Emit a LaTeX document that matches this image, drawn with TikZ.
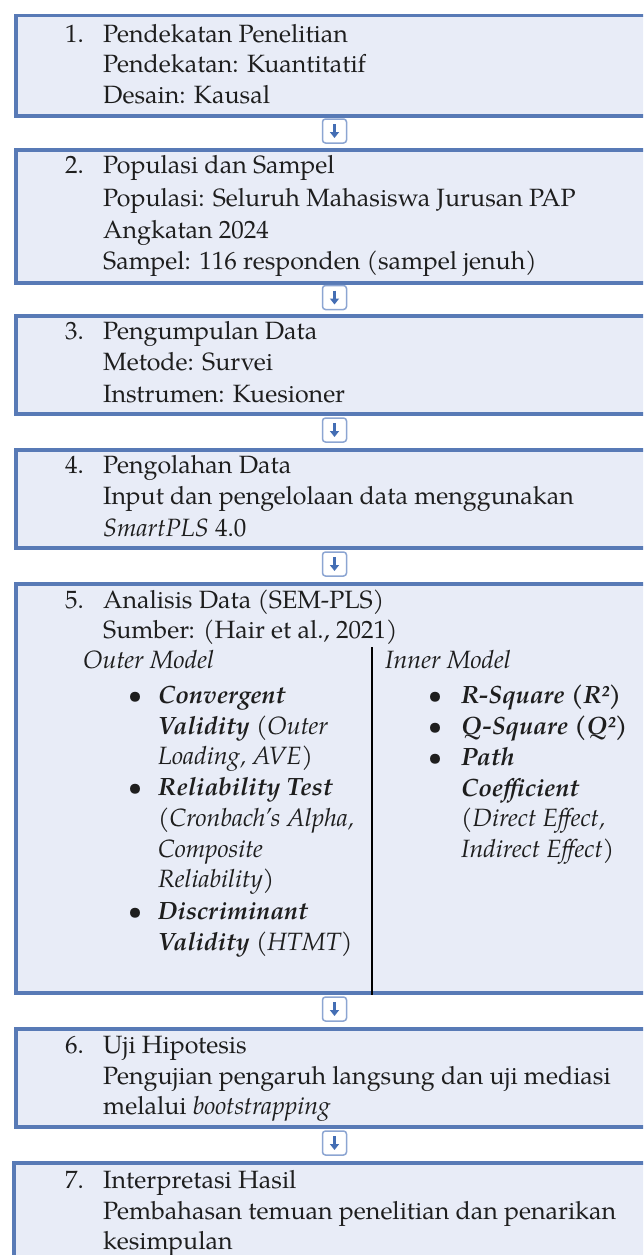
\documentclass[tikz,border=0pt]{standalone}
\usepackage{fontspec}
\setmainfont{TeX Gyre Pagella}
\usetikzlibrary{calc,arrows.meta}
\definecolor{boxfill}{RGB}{232,236,247}
\definecolor{boxline}{RGB}{88,122,182}
\definecolor{iconline}{RGB}{140,165,210}
\definecolor{iconarrow}{RGB}{68,110,180}
\definecolor{txt}{RGB}{30,30,30}
\tikzset{
  stepbox/.style={draw=boxline, line width=3.5pt, fill=boxfill, anchor=north west, inner sep=0pt, minimum width=660pt},
  ln/.style={anchor=base west, inner sep=0pt, text=txt, font=\fontsize{25}{31}\selectfont},
  icon/.style={draw=iconline, line width=1.5pt, fill=white, rounded corners=3pt, minimum size=24pt, inner sep=0pt},
  iconarr/.style={draw=iconarrow, line width=2.5pt, -{Triangle[length=6pt,width=9pt]}},
  divider/.style={draw=black, line width=2pt},
}
\newcommand\txtline[4]{\node[ln] (#1) at (#2,#3) {#4};}
\newcommand\bul[3]{\node[ln] (#1) at (#2,#3) {\textbullet};}
\begin{document}
\begin{tikzpicture}[x=1pt,y=-1pt]
\useasboundingbox (0,0) rectangle (643,1255);
\clip (0,0) rectangle (643,1255);
\fill[white] (0,0) rectangle (643,1255);
% boxes
\node[stepbox, minimum height=100pt] (b1) at (14,14) {};
\node[stepbox, minimum height=133pt] (b2) at (14,148) {};
\node[stepbox, minimum height=98pt] (b3) at (14,314) {};
\node[stepbox, minimum height=98pt] (b4) at (14,448) {};
\node[stepbox, minimum height=409pt] (b5) at (14,582) {};
\node[stepbox, minimum height=98pt] (b6) at (14,1027) {};
\node[stepbox, minimum height=120pt] (b7) at (12,1161) {};
% divider in box 5
\coordinate (dtop) at (372,647);
\draw[divider] (dtop) -- (dtop |- b5.south);
% arrow icons
\foreach \n/\y in {a1/131, a2/297.5, a3/430, a4/564, a5/1009, a6/1143}{
  \node[icon] (\n) at (334.5,\y) {};
  \draw[iconarr] ($(\n.center)+(0,-7)$) -- ($(\n.center)+(0,7)$);
}
% box 1
\txtline{n1}{65}{43}{1.}
\txtline{t1a}{103}{43}{Pendekatan Penelitian}
\txtline{t1b}{103}{73}{Pendekatan: Kuantitatif}
\txtline{t1c}{103}{103}{Desain: Kausal}
% box 2
\txtline{n2}{65}{173}{2.}
\txtline{t2a}{103}{173}{Populasi dan Sampel}
\txtline{t2b}{103}{206}{Populasi: Seluruh Mahasiswa Jurusan PAP}
\txtline{t2c}{103}{238}{Angkatan 2024}
\txtline{t2d}{103}{269}{Sampel: 116 responden (sampel jenuh)}
% box 3
\txtline{n3}{65}{339}{3.}
\txtline{t3a}{103}{339}{Pengumpulan Data}
\txtline{t3b}{103}{370}{Metode: Survei}
\txtline{t3c}{103}{402}{Instrumen: Kuesioner}
% box 4
\txtline{n4}{65}{473}{4.}
\txtline{t4a}{103}{473}{Pengolahan Data}
\txtline{t4b}{103}{504}{Input dan pengelolaan data menggunakan}
\txtline{t4c}{103}{536}{\textit{SmartPLS} 4.0}
% box 5
\txtline{n5}{65}{608}{5.}
\txtline{t5a}{103}{608}{Analisis Data (SEM-PLS)}
\txtline{t5b}{103}{638}{Sumber: (Hair et al., 2021)}
\txtline{om}{83}{668}{\textit{Outer Model}}
\txtline{im}{385}{668}{\textit{Inner Model}}
\bul{ob1}{128}{703}
\bul{ob2}{128}{795}
\bul{ob3}{128}{919}
\txtline{o1}{158}{703}{\textbf{\textit{Convergent}}}
\txtline{o2}{158}{734}{\textbf{\textit{Validity}} \textit{(Outer}}
\txtline{o3}{158}{764}{\textit{Loading, AVE)}}
\txtline{o4}{158}{795}{\textbf{\textit{Reliability Test}}}
\txtline{o5}{158}{826}{\textit{(Cronbach’s Alpha,}}
\txtline{o6}{158}{857}{\textit{Composite}}
\txtline{o7}{158}{887}{\textit{Reliability)}}
\txtline{o8}{158}{919}{\textbf{\textit{Discriminant}}}
\txtline{o9}{158}{950}{\textbf{\textit{Validity}} \textit{(HTMT)}}
\bul{ib1}{428}{703}
\bul{ib2}{428}{734}
\bul{ib3}{428}{765}
\txtline{i1}{461}{703}{\textbf{\textit{R-Square (R²)}}}
\txtline{i2}{461}{734}{\textbf{\textit{Q-Square (Q²)}}}
\txtline{i3}{461}{765}{\textbf{\textit{Path}}}
\txtline{i4}{461}{796}{\textbf{\textit{Coefficient}}}
\txtline{i5}{461}{826}{\textit{(Direct Effect,}}
\txtline{i6}{461}{857}{\textit{Indirect Effect)}}
% box 6
\txtline{n6}{65}{1053}{6.}
\txtline{t6a}{103}{1053}{Uji Hipotesis}
\txtline{t6b}{103}{1084}{Pengujian pengaruh langsung dan uji mediasi}
\txtline{t6c}{103}{1114}{melalui \textit{bootstrapping}}
% box 7
\txtline{n7}{65}{1188}{7.}
\txtline{t7a}{103}{1188}{Interpretasi Hasil}
\txtline{t7b}{103}{1219}{Pembahasan temuan penelitian dan penarikan}
\txtline{t7c}{103}{1249}{kesimpulan}
\end{tikzpicture}
\end{document}
